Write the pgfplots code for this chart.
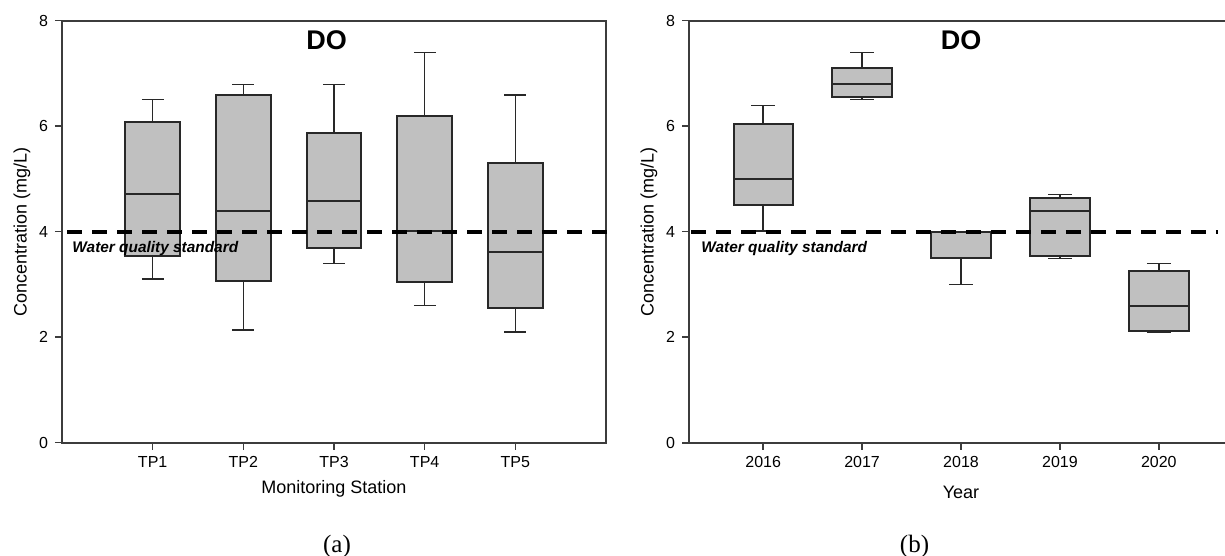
\documentclass[border=0pt]{standalone}
\usepackage{pgfplots}
\pgfplotsset{compat=1.18}
\usepackage{pgfplotstable}
\usepgfplotslibrary{statistics}
\usepackage{fontspec}
\setmainfont{Liberation Sans}
\newfontfamily\capfont{Liberation Serif}
\definecolor{boxfill}{RGB}{192,192,192}
\definecolor{boxline}{RGB}{40,40,40}
\definecolor{axline}{RGB}{60,60,60}

\pgfplotstableread{
pos lw lq med uq uw
1 3.10 3.54 4.71 6.08 6.51
2 2.14 3.06 4.40 6.59 6.79
3 3.40 3.70 4.59 5.88 6.79
4 2.60 3.05 4.01 6.19 7.40
5 2.10 2.55 3.61 5.30 6.59
}\tabA
\pgfplotstableread{
pos lw lq med uq uw
1 4.01 4.51 5.00 6.04 6.39
2 6.51 6.55 6.80 7.10 7.40
3 3.00 3.50 4.00 4.00 4.00
4 3.49 3.54 4.40 4.64 4.71
5 2.09 2.12 2.60 3.25 3.40
}\tabB

\newcommand\bx[3]{%
  \pgfplotstablegetelem{#2}{lw}\of#1\let\vlw\pgfplotsretval
  \pgfplotstablegetelem{#2}{lq}\of#1\let\vlq\pgfplotsretval
  \pgfplotstablegetelem{#2}{med}\of#1\let\vmed\pgfplotsretval
  \pgfplotstablegetelem{#2}{uq}\of#1\let\vuq\pgfplotsretval
  \pgfplotstablegetelem{#2}{uw}\of#1\let\vuw\pgfplotsretval
  \edef\tmp{\noexpand\addplot[boxline, mark=none, line width=0.7pt,
    boxplot prepared={draw position=#3,
      lower whisker=\vlw, lower quartile=\vlq, median=\vmed,
      upper quartile=\vuq, upper whisker=\vuw}] coordinates {};}%
  \tmp}

\pgfplotsset{
  panel/.style={
    scale only axis, width=272pt, height=211pt,
    ymin=0, ymax=8, ytick={0,2,4,6,8},
    xtick={1,2,3,4,5},
    tick align=outside, xtick pos=bottom, ytick pos=left,
    major tick length=3.5pt,
    axis line style={axline, line width=1pt},
    tick style={axline, line width=0.8pt},
    tick label style={font=\fontsize{8}{9}\selectfont},
    label style={font=\fontsize{9}{10}\selectfont},
    /pgf/number format/assume math mode=true,
    clip=false,
    ylabel={Concentration (mg/L)},
    ylabel style={at={(axis description cs:-0.0735,0.5)}, anchor=center},
    boxplot/draw direction=y,
    boxplot/box extend=0.6,
    boxplot/whisker extend=0.24,
    boxplot/every box/.style={fill=boxfill, draw=boxline, line width=1pt},
    boxplot/every median/.style={line width=1pt},
    boxplot/every whisker/.style={line width=0.7pt},
  },
  stdline/.style={black, line width=2pt, dash pattern=on 7.5pt off 5pt, mark=none},
}

\begin{document}
\begin{tikzpicture}
\begin{axis}[panel, at={(0pt,0pt)}, anchor=south west,
  xmin=0, xmax=6,
  xticklabels={TP1,TP2,TP3,TP4,TP5},
  xlabel={Monitoring Station},
  xlabel style={at={(axis description cs:0.5,-0.109)}, anchor=center}]
\bx{\tabA}{0}{1}
\bx{\tabA}{1}{2}
\bx{\tabA}{2}{3}
\bx{\tabA}{3}{4}
\bx{\tabA}{4}{5}
\addplot[stdline] coordinates {(0.06,4) (6.06,4)};
\node[font=\bfseries\fontsize{13.5}{14}\selectfont] at (axis cs:2.92,7.63) {DO};
\node[anchor=west, inner sep=0pt, font=\bfseries\itshape\fontsize{7.7}{9}\selectfont] at (axis cs:0.111,3.69) {Water quality standard};
\end{axis}

\begin{axis}[panel, at={(313.5pt,0pt)}, anchor=south west,
  xmin=0.25, xmax=5.75,
  xticklabels={2016,2017,2018,2019,2020},
  xlabel={Year},
  xlabel style={at={(axis description cs:0.5,-0.1185)}, anchor=center}]
\bx{\tabB}{0}{1}
\bx{\tabB}{1}{2}
\bx{\tabB}{2}{3}
\bx{\tabB}{3}{4}
\bx{\tabB}{4}{5}
\addplot[stdline] coordinates {(0.27,4) (5.6,4)};
\node[font=\bfseries\fontsize{13.5}{14}\selectfont] at (axis cs:3.0,7.63) {DO};
\node[anchor=west, inner sep=0pt, font=\bfseries\itshape\fontsize{7.7}{9}\selectfont] at (axis cs:0.371,3.69) {Water quality standard};
\end{axis}

\node[font=\capfont\fontsize{12.5}{14}\selectfont] at (137.5pt,-51.65pt) {(a)};
\node[font=\capfont\fontsize{12.5}{14}\selectfont] at (426.25pt,-51.65pt) {(b)};

\pgfresetboundingbox
\useasboundingbox (-31pt,-56.65pt) rectangle (581.5pt,221.35pt);
\end{tikzpicture}
\end{document}
